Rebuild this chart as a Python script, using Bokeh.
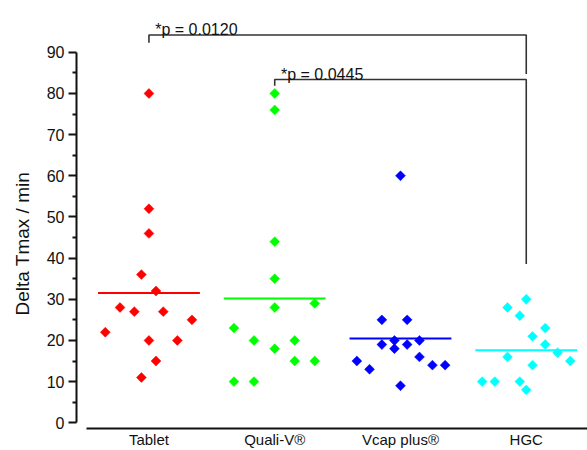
import numpy as np
from bokeh.plotting import figure
from bokeh.models import Range1d, FixedTicker, ColumnDataSource, Label
from bokeh.core.properties import value
from bokeh.embed import file_html
from bokeh.resources import INLINE

# ---- data ----
categories = ["Tablet", "Quali-V®", "Vcap plus®", "HGC"]
colors = ["#ff0000", "#00ff00", "#0000ff", "#00ffff"]

tablet = [80, 52, 46, 36, 32, 28, 27, 27, 25, 22, 20, 20, 15, 11]
tablet_off = [0, 0, 0, -0.06, 0.056, -0.23, -0.116, 0.114, 0.342, -0.347, 0, 0.226, 0.056, -0.06]

qualiv = [80, 76, 44, 35, 28, 29, 23, 20, 20, 18, 15, 15, 10, 10]
qualiv_off = [0, 0, 0, 0, 0, 0.318, -0.324, -0.165, 0.159, 0, 0.159, 0.318, -0.324, -0.165]

vcap = [60, 25, 25, 20, 20, 19, 19, 18, 16, 15, 14, 14, 13, 9]
vcap_off = [0, -0.148, 0.053, -0.048, 0.151, -0.148, 0.053, -0.048, 0.151, -0.347, 0.254, 0.355, -0.246, 0]

hgc = [30, 28, 26, 23, 21, 19, 17, 16, 15, 14, 10, 10, 10, 8]
hgc_off = [0, -0.149, -0.051, 0.151, 0.05, 0.151, 0.249, -0.149, 0.35, 0.05, -0.35, -0.25, -0.051, 0]

groups = [tablet, qualiv, vcap, hgc]
offsets = [tablet_off, qualiv_off, vcap_off, hgc_off]

# significance comparisons: (group a, group b), label, bracket level, left drop end, right drop end
comp_pairs = [(0, 3), (1, 3)]
comp_labels = ["*p = 0.0120", "*p = 0.0445"]
comp_levels = [94.2, 83.4]
comp_left_end = [92.3, 81.9]
comp_right_end = [84.7, 38.6]

y_ticks = list(range(0, 100, 10))
y_minor = list(range(5, 90, 10))
y_title = "Delta Tmax / min"

FONT = "Liberation Sans"

p = figure(width=587, height=450, output_backend="svg", toolbar_location=None,
           x_range=Range1d(0.424, 4.487), y_range=Range1d(-1.39, 102.58),
           min_border_left=76, min_border_right=0, min_border_top=0, min_border_bottom=20)
p.outline_line_color = None
p.xgrid.visible = False
p.ygrid.visible = False
p.background_fill_color = "#ffffff"
p.border_fill_color = "#ffffff"

# points and mean lines
for i, (vals, offs) in enumerate(zip(groups, offsets)):
    src = ColumnDataSource(dict(x=[i + 1 + o for o in offs], y=vals))
    p.scatter("x", "y", source=src, marker="square", angle=np.pi / 4, size=7,
              fill_color=colors[i], line_color=colors[i], line_width=0.5)
    m = float(np.mean(vals))
    p.segment(x0=[i + 1 - 0.405], y0=[m], x1=[i + 1 + 0.405], y1=[m],
              line_color=colors[i], line_width=2)

# significance brackets
xs, ys = [], []
tx, ty = [], []
for (a, b), lvl, le, re in zip(comp_pairs, comp_levels, comp_left_end, comp_right_end):
    xs.append([a + 1, a + 1, b + 1, b + 1])
    ys.append([le, lvl, lvl, re])
    tx.append(a + 1 + 0.05)
    ty.append(lvl + 1.3)
p.multi_line(xs, ys, line_color="#333333", line_width=1.6)
p.text(x=tx, y=ty, text=comp_labels, text_font=value(FONT), text_font_size="16px",
       text_color="#111111", text_align="left", text_baseline="alphabetic")

# y axis
ya = p.yaxis[0]
ya.ticker = FixedTicker(ticks=y_ticks, minor_ticks=y_minor)
ya.bounds = (0, 90)
ya.major_label_text_font = FONT
ya.major_label_text_font_size = "16px"
ya.major_label_text_color = "#111111"
ya.major_label_standoff = 4
ya.major_tick_out = 8
ya.major_tick_in = 0
ya.minor_tick_out = 4
ya.minor_tick_in = 0
ya.axis_line_width = 2
ya.major_tick_line_width = 2
ya.minor_tick_line_width = 2
ya.axis_line_color = "#111111"
ya.major_tick_line_color = "#111111"
ya.minor_tick_line_color = "#111111"

p.add_layout(Label(x=0, y=43.5, x_units="screen", y_units="data", text=y_title,
                   angle=np.pi / 2, text_align="center", text_baseline="middle",
                   text_font=FONT, text_font_size="19px", text_color="#111111"), "left")

# x axis
xa = p.xaxis[0]
xa.ticker = FixedTicker(ticks=[1, 2, 3, 4], minor_ticks=[])
xa.major_label_overrides = {i + 1: c for i, c in enumerate(categories)}
xa.bounds = (0.5, 4.487)
xa.major_label_text_font = FONT
xa.major_label_text_font_size = "15px"
xa.major_label_text_color = "#111111"
xa.major_label_standoff = 2
xa.major_tick_out = 0
xa.major_tick_in = 0
xa.minor_tick_out = 0
xa.minor_tick_in = 0
xa.axis_line_width = 2
xa.axis_line_color = "#111111"

open("out.html", "w").write(file_html(p, INLINE))
